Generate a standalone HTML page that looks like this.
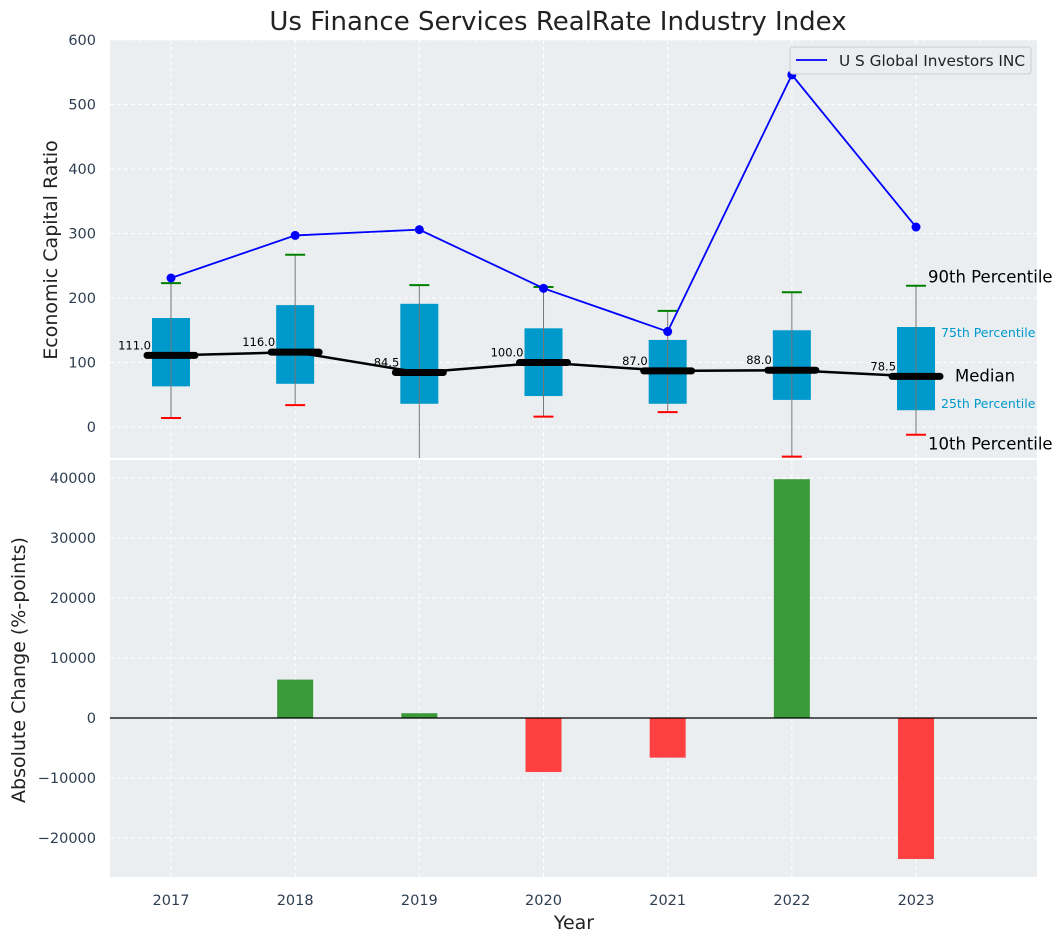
<!DOCTYPE html>
<html><head><meta charset="utf-8"><style>
body{margin:0;background:#fff;font-family:"Liberation Sans","DejaVu Sans",sans-serif}
svg text{font-family:"DejaVu Sans","Liberation Sans",sans-serif}
</style></head><body>
<svg id="c" width="1063" height="942" xmlns="http://www.w3.org/2000/svg"></svg>
<script>
const years=[2017,2018,2019,2020,2021,2022,2023];
const company=[231,297,306,215,148,546,310];
const p10=[14,34,-60,16,23,-46,-12];
const p25=[63,67,36,48,36,42,26];
const median=[111,116,84.5,100,87,88,78.5];
const p75=[169,189,191,153,135,150,155];
const p90=[223,267,220,217,180,209,219];
const change=[0,6400,800,-9000,-6600,39800,-23500];
const topTicks=[0,100,200,300,400,500,600];
const botTicks=[-20000,-10000,0,10000,20000,30000,40000];

const NS="http://www.w3.org/2000/svg";
const svg=document.getElementById('c');
function el(t,a,p){const e=document.createElementNS(NS,t);for(const k in a)e.setAttribute(k,a[k]);(p||svg).appendChild(e);return e;}
const L=110,R=1037;
const x=v=>171+(v-2017)*124.17;
const T0=40,T1=458,yT=v=>427-v*0.645;
const B0=460,B1=877,yB=v=>718-v*0.006;

let t=el('text',{x:558,y:30,'text-anchor':'middle','font-size':26,fill:'#222'});t.textContent='Us Finance Services RealRate Industry Index';


el('rect',{x:L,y:T0,width:R-L,height:T1-T0,fill:'#eaeef0'});
el('rect',{x:L,y:B0,width:R-L,height:B1-B0,fill:'#eaeef0'});

const defs=el('defs',{});
const cp=el('clipPath',{id:'ct'},defs);el('rect',{x:L,y:T0,width:R-L,height:T1-T0},cp);
const cb=el('clipPath',{id:'cb'},defs);el('rect',{x:L,y:B0,width:R-L,height:B1-B0},cb);

years.forEach(y=>{
  el('line',{x1:x(y),x2:x(y),y1:T0,y2:T1,stroke:'#fff','stroke-dasharray':'4,3','stroke-width':1});
  el('line',{x1:x(y),x2:x(y),y1:B0,y2:B1,stroke:'#fff','stroke-dasharray':'4,3','stroke-width':1});
  const tx=el('text',{x:x(y),y:905,'text-anchor':'middle','font-size':14.5,fill:'#2e3e50'});tx.textContent=y;
  
});
topTicks.forEach(v=>{
  el('line',{x1:L,x2:R,y1:yT(v),y2:yT(v),stroke:'#fff','stroke-dasharray':'4,3'});
  const tx=el('text',{x:96,y:yT(v)+5,'text-anchor':'end','font-size':14.5,fill:'#2e3e50'});tx.textContent=v;
  
});
botTicks.forEach(v=>{
  el('line',{x1:L,x2:R,y1:yB(v),y2:yB(v),stroke:'#fff','stroke-dasharray':'4,3'});
  const tx=el('text',{x:96,y:yB(v)+5,'text-anchor':'end','font-size':14.5,fill:'#2e3e50'});tx.textContent=(v<0?'\u2212'+(-v):v);
  
});

const gt=el('g',{'clip-path':'url(#ct)'});
years.forEach((y,i)=>{
  const cx=x(y);
  const b=el('rect',{x:cx-19,y:yT(p75[i]),width:38,height:yT(p25[i])-yT(p75[i]),fill:'#0099cc'},gt);
  
  el('line',{x1:cx,x2:cx,y1:yT(p10[i]),y2:yT(p90[i]),stroke:'#777','stroke-width':1},gt);
  el('line',{x1:cx-10,x2:cx+10,y1:yT(p90[i]),y2:yT(p90[i]),stroke:'green','stroke-width':2},gt);
  el('line',{x1:cx-10,x2:cx+10,y1:yT(p10[i]),y2:yT(p10[i]),stroke:'red','stroke-width':2},gt);
});
let d=years.map((y,i)=>(i?'L':'M')+x(y)+','+yT(median[i])).join(' ');
el('path',{d:d,fill:'none',stroke:'#000','stroke-width':2.5},gt);
years.forEach((y,i)=>{
  const m=el('line',{x1:x(y)-24,x2:x(y)+24,y1:yT(median[i]),y2:yT(median[i]),stroke:'#000','stroke-width':7,'stroke-linecap':'round'},gt);
  
  const tx=el('text',{x:x(y)-20,y:yT(median[i])-6,'text-anchor':'end','font-size':11.5,fill:'#000'});tx.textContent=median[i].toFixed(1);
  
});
d=years.map((y,i)=>(i?'L':'M')+x(y)+','+yT(company[i])).join(' ');
el('path',{d:d,fill:'none',stroke:'blue','stroke-width':1.8},gt);
years.forEach((y,i)=>{
  const c=el('circle',{cx:x(y),cy:yT(company[i]),r:4.5,fill:'blue'},gt);
  
});
const lx=x(2023);
[['90th Percentile',p90[6],16.5,'#000',12,-3],['75th Percentile',p75[6],12.5,'#0099cc',25,10],['Median',median[6],16.5,'#000',39,5],['25th Percentile',p25[6],12.5,'#0099cc',25,-2],['10th Percentile',p10[6],16.5,'#000',12,15]].forEach(a=>{
  const tx=el('text',{x:lx+a[4],y:yT(a[1])+a[5],'font-size':a[2],fill:a[3]});tx.textContent=a[0];
  
});
const lg=el('g',{});
el('rect',{x:790,y:47,width:241,height:27,rx:3,fill:'#eaeef0',stroke:'#ccc'},lg);
el('line',{x1:796,x2:827,y1:60,y2:60,stroke:'blue','stroke-width':1.8},lg);
t=el('text',{x:839,y:66,'font-size':15.3,fill:'#222'},lg);t.textContent='U S Global Investors INC';

const gb=el('g',{'clip-path':'url(#cb)'});
years.forEach((y,i)=>{
  const v=change[i];if(!v)return;
  const r=el('rect',{x:x(y)-18,y:Math.min(yB(v),yB(0)),width:36,height:Math.abs(yB(v)-yB(0)),fill:v>0?'#3a9a3a':'#ff4040'},gb);
  
});
el('line',{x1:L,x2:R,y1:yB(0),y2:yB(0),stroke:'#000','stroke-width':1.2});

t=el('text',{x:0,y:0,transform:'translate(57,250) rotate(-90)','text-anchor':'middle','font-size':19,fill:'#222'});t.textContent='Economic Capital Ratio';

t=el('text',{x:0,y:0,transform:'translate(25,670) rotate(-90)','text-anchor':'middle','font-size':19,fill:'#222'});t.textContent='Absolute Change (%-points)';

t=el('text',{x:574,y:929,'text-anchor':'middle','font-size':19,fill:'#222'});t.textContent='Year';

</script>
</body></html>
